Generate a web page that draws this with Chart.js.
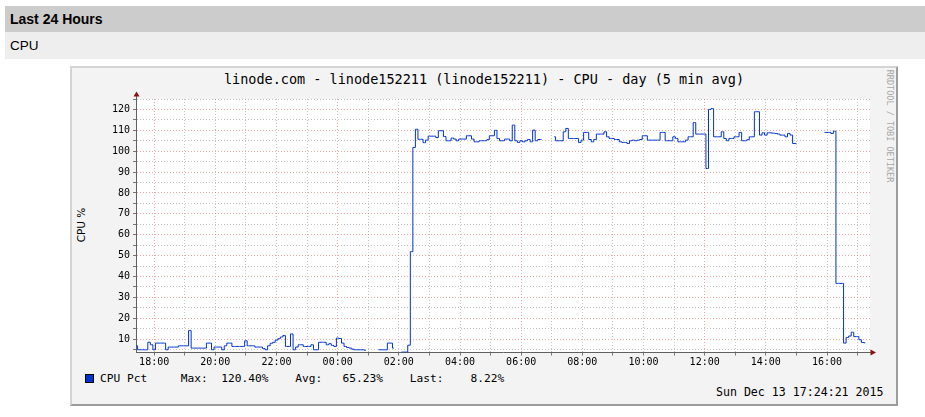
<!DOCTYPE html>
<html><head><meta charset="utf-8">
<script src="https://cdn.jsdelivr.net/npm/chart.js@4.4.0/dist/chart.umd.min.js"></script>
<style>
html,body{margin:0;padding:0;background:#fff;width:925px;height:417px;overflow:hidden;position:relative;font-family:'Liberation Sans',Arial,sans-serif}
.hdr{position:absolute;left:5px;top:6px;width:920px;height:26px;background:#ccc}
.hdr span{position:absolute;left:5px;top:5px;font-weight:bold;font-size:14px;line-height:16px;color:#000}
.sub{position:absolute;left:5px;top:32px;width:920px;height:27px;background:#eee}
.sub span{position:absolute;left:5px;top:6px;font-size:13.5px;line-height:16px;color:#000}
.box{position:absolute;left:70px;top:66px;width:828px;height:340px;box-sizing:border-box;background:#f3f3f3;border-top:2px solid #d4d4d4;border-left:2px solid #d4d4d4;border-right:2px solid #9c9c9c;border-bottom:2px solid #9c9c9c}
canvas{position:absolute;left:0;top:0}
.mono{font-family:'DejaVu Sans Mono',monospace;white-space:pre;position:absolute;color:#000}
#title{left:70px;width:828px;top:71px;text-align:center;font-size:13.5px;line-height:16px}
#ytitle{position:absolute;left:80.5px;top:225px;transform:translate(-50%,-50%) rotate(-90deg);font-family:'DejaVu Sans',sans-serif;font-size:10.5px;line-height:12px;white-space:nowrap;color:#000}
#rrd{position:absolute;left:890px;top:126px;transform:translate(-50%,-50%) rotate(90deg);font-family:'DejaVu Sans Mono',monospace;font-size:8.5px;line-height:10px;white-space:nowrap;color:#a8a8a8}
#lsq{position:absolute;left:85px;top:374px;width:9px;height:9px;box-sizing:border-box;border:1px solid #000;background:#0033cc}
#legend{left:100px;top:372px;font-size:11.2px;line-height:14px}
#date{left:500px;width:383.5px;text-align:right;top:385px;font-size:11.6px;line-height:14px}
</style></head>
<body>
<div class="hdr"><span>Last 24 Hours</span></div>
<div class="sub"><span>CPU</span></div>
<div class="box"></div>
<div class="mono" id="title">linode.com - linode152211 (linode152211) - CPU - day (5 min avg)</div>
<div id="ytitle">CPU %</div>
<div id="rrd">RRDTOOL / TOBI OETIKER</div>
<div id="lsq"></div>
<div class="mono" id="legend">CPU Pct     Max:  120.40%    Avg:   65.23%    Last:    8.22%</div>
<div class="mono" id="date">Sun Dec 13 17:24:21 2015</div>
<canvas id="c" width="925" height="417"></canvas>
<script>
// time axis in minutes since Sat Dec 12 17:00
const rangeStart = 24.35;   // 17:24:21
const rangeEnd = 1464.35;   // 17:24:21 next day
const sampleStart = 25;     // first 5-min sample (17:25)
const sampleStep = 5;

const hourTicks = ['18:00','19:00','20:00','21:00','22:00','23:00','00:00','01:00','02:00','03:00','04:00','05:00',
                   '06:00','07:00','08:00','09:00','10:00','11:00','12:00','13:00','14:00','15:00','16:00','17:00'];
const yTicks = [5,10,15,20,25,30,35,40,45,50,55,60,65,70,75,80,85,90,95,100,105,110,115,120,125];

const cpuPct = [
 6.8,4.9,4.9,4.9,4.9,8.5,7.3,4.9,8.1,8.1,
 8.1,8.1,4.9,6.2,6.2,6.2,6.2,6.8,6.8,6.8,
 6.8,14.1,5.7,5.7,5.7,5.7,5.7,5.7,8.1,8.1,
 4.9,6.2,6.2,6.2,4.9,6.8,8.1,8.1,6.5,6.5,
 6.5,6.5,6.5,9.2,6.8,6.8,6.8,6.2,6.2,6.2,
 5.5,4.9,6.8,8.0,8.5,9.5,10.2,11.0,11.7,6.5,
 6.5,12.5,4.9,6.2,7.3,7.3,6.5,6.5,6.5,7.3,
 4.9,4.9,8.5,8.5,8.5,7.3,7.8,7.0,6.5,10.5,
 10.3,8.1,6.5,6.0,5.7,5.2,4.9,4.9,4.9,4.9,
 4.6,null,null,null,null,4.9,4.9,4.9,4.9,8.1,
 8.1,5.7,null,null,3.8,3.8,3.8,7.1,51.9,101.8,
 110.5,105.7,105.7,104.1,105.3,107.2,107.2,107.2,106.5,109.8,
 109.8,107,105,105,106.3,105.8,105,105.8,105.8,105.8,
 107.4,107.4,105.8,104.5,104.5,105,105,105,105.5,107.4,
 107.4,110,106.1,105,105,105.8,105.8,105,112.5,105,
 104.2,105,104.5,105,105.6,104.5,110.1,105,105.6,105.6,
 null,null,null,null,106.9,105,105,105,109.3,110.9,
 106.1,106.1,106.1,106.1,104.2,105.3,109,109,105.6,104.5,
 105.6,108.2,108.2,108.2,109.3,106.9,106.1,106.1,105.6,105.6,
 104.5,104.2,104.2,103.7,105,105.3,105,105.3,105.6,107.4,
 107.4,105.3,105.3,105.3,105.3,105.3,109,109,105,105,
 105,106.9,106.1,104.5,104.5,104.5,105.3,106.9,106.9,113.7,
 108.2,108.2,108.2,108.2,91.7,120,120.4,106.9,106.9,106.9,
 109.3,106.1,105,106.1,106.1,106.9,106.9,109,105,105,
 105.5,106.9,106.9,118.9,118.9,107.7,108.8,107.7,108.8,108.8,
 108.6,108.5,108.2,107.7,107.7,106.9,108.5,107.7,103.7,103.7,
 null,null,null,null,null,null,null,null,null,null,
 109,109,109,108.5,109.6,36.7,36.7,36.7,8.1,10.8,
 11.5,13.3,11.2,11.2,9.7,8.4,8.22
];

const gridMinor = 'rgba(150,150,150,0.55)';
const gridMajor = 'rgba(225,110,110,0.6)';

const plotBg = {
  id:'plotBg',
  beforeDraw(chart){
    const {ctx, chartArea:a} = chart;
    ctx.save(); ctx.fillStyle='#fff';
    ctx.fillRect(a.left, a.top, a.right-a.left, a.bottom-a.top);
    ctx.restore();
  },
  afterDraw(chart){
    const {ctx, chartArea:a} = chart;
    const ax = Math.round(a.left)+0.5, ay = Math.floor(a.bottom)+0.5;
    ctx.save();
    ctx.strokeStyle='#606060'; ctx.lineWidth=1;
    ctx.beginPath(); ctx.moveTo(ax, a.top); ctx.lineTo(ax, a.top-4); ctx.stroke();
    ctx.beginPath(); ctx.moveTo(a.right-1, ay); ctx.lineTo(a.right+1, ay); ctx.stroke();
    ctx.fillStyle='#8b1010';
    ctx.beginPath(); ctx.moveTo(ax-3, a.top-2.5); ctx.lineTo(ax+3, a.top-2.5); ctx.lineTo(ax, a.top-7.5); ctx.closePath(); ctx.fill();
    ctx.beginPath(); ctx.moveTo(a.right+0.5, ay-3); ctx.lineTo(a.right+0.5, ay+3); ctx.lineTo(a.right+6, ay); ctx.closePath(); ctx.fill();
    ctx.restore();
  }
};

new Chart(document.getElementById('c'), {
  type:'line',
  data:{datasets:[{
    data: cpuPct.map((v,i)=>({x: sampleStart + sampleStep*i, y: v})),
    borderColor:'#0033cc', borderWidth:1, pointRadius:0, tension:0, fill:false, spanGaps:false,
    stepped:'middle'
  }]},
  options:{
    responsive:false, animation:false, devicePixelRatio:1,
    layout:{padding:{left:0, top:99, right:55, bottom:0}},
    plugins:{legend:{display:false}, tooltip:{enabled:false}},
    scales:{
      x:{type:'linear', min:rangeStart, max:rangeEnd,
        afterBuildTicks:(s)=>{ s.ticks = hourTicks.map((_,k)=>({value:60*(k+1)})); },
        afterFit:(s)=>{ s.height = 64.5; },
        ticks:{autoSkip:false, maxRotation:0, padding:1, color:'#000',
          font:{family:'DejaVu Sans Mono', size:10},
          callback:(v,i)=>{ const l = hourTicks[i]; return (parseInt(l,10)%2===0) ? l : ''; }},
        grid:{color:(c)=>{ const h = Math.round(17 + c.tick.value/60) % 24; return h%6===0 ? gridMajor : gridMinor; },
          lineWidth:1, tickLength:3, tickColor:'#777', drawTicks:true},
        border:{display:true, color:'#606060', width:1, dash:[1,2]}
      },
      y:{type:'linear', min:3.6, max:125,
        afterBuildTicks:(s)=>{ s.ticks = yTicks.map(v=>({value:v})); },
        afterFit:(s)=>{ s.width = 136; },
        ticks:{autoSkip:false, padding:3, color:'#000', font:{family:'DejaVu Sans Mono', size:10},
          callback:(v)=> (v%10===0 && v<=120) ? String(v) : ''},
        grid:{color:(c)=> (c.tick.value%10===0) ? gridMajor : gridMinor,
          lineWidth:1, tickLength:3, tickColor:'#777', drawTicks:true},
        border:{display:true, color:'#606060', width:1, dash:[1,2]}
      }
    }
  },
  plugins:[plotBg]
});
</script>
</body></html>
